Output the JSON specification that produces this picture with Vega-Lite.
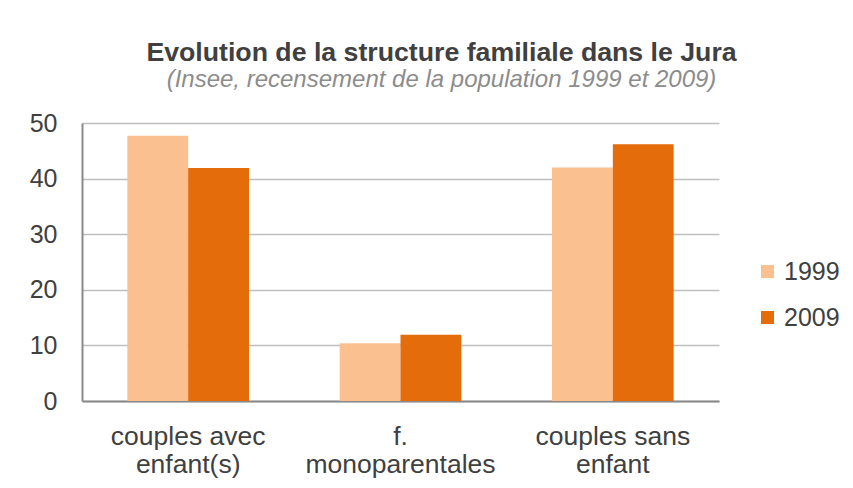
{
  "$schema": "https://vega.github.io/schema/vega-lite/v6.json",
  "width": 637,
  "height": 278,
  "autosize": {"type": "none"},
  "padding": {"left": 82, "top": 123, "right": 134, "bottom": 87},
  "background": "white",
  "title": {
    "text": "Evolution de la structure familiale dans le Jura",
    "subtitle": "(Insee, recensement de la population 1999 et 2009)",
    "anchor": "middle",
    "frame": "group",
    "dx": 41,
    "offset": 19,
    "font": "Liberation Sans",
    "fontSize": 26.7,
    "fontWeight": "bold",
    "color": "#404040",
    "subtitleFont": "Liberation Sans",
    "subtitleFontSize": 24,
    "subtitleFontStyle": "italic",
    "subtitleColor": "#8c8c8c",
    "subtitlePadding": 1
  },
  "data": {
    "values": [
      {"categorie": "couples avec enfant(s)", "annee": "1999", "valeur": 47.7},
      {"categorie": "couples avec enfant(s)", "annee": "2009", "valeur": 41.9},
      {"categorie": "f. monoparentales", "annee": "1999", "valeur": 10.4},
      {"categorie": "f. monoparentales", "annee": "2009", "valeur": 11.9},
      {"categorie": "couples sans enfant", "annee": "1999", "valeur": 42.0},
      {"categorie": "couples sans enfant", "annee": "2009", "valeur": 46.2}
    ]
  },
  "mark": {"type": "bar"},
  "encoding": {
    "x": {
      "field": "categorie",
      "type": "nominal",
      "sort": ["couples avec enfant(s)", "f. monoparentales", "couples sans enfant"],
      "scale": {"paddingInner": 0.427, "paddingOuter": 0.2135},
      "axis": {
        "title": null,
        "labelAngle": 0,
        "ticks": false,
        "domainColor": "#898989",
        "domainWidth": 2,
        "labelFont": "Liberation Sans",
        "labelFontSize": 26.5,
        "labelColor": "#404040",
        "labelPadding": 22,
        "labelLineHeight": 28,
        "labelLimit": 0,
        "labelExpr": "datum.value == 'f. monoparentales' ? ['f.', 'monoparentales'] : [slice(datum.value, 0, 12), slice(datum.value, 13)]"
      }
    },
    "xOffset": {"field": "annee", "type": "nominal"},
    "y": {
      "field": "valeur",
      "type": "quantitative",
      "scale": {"domain": [0, 50]},
      "axis": {
        "title": null,
        "values": [0, 10, 20, 30, 40, 50],
        "ticks": false,
        "domainColor": "#898989",
        "domainWidth": 2,
        "gridColor": "#bfbfbf",
        "gridWidth": 1.5,
        "labelFont": "Liberation Sans",
        "labelFontSize": 25,
        "labelColor": "#404040",
        "labelPadding": 25
      }
    },
    "color": {
      "field": "annee",
      "type": "nominal",
      "scale": {"domain": ["1999", "2009"], "range": ["#FAC090", "#E46C0A"]},
      "legend": {
        "title": null,
        "orient": "none",
        "legendX": 673,
        "legendY": 136,
        "symbolType": "square",
        "symbolSize": 169,
        "symbolStrokeWidth": 0,
        "labelFont": "Liberation Sans",
        "labelFontSize": 25,
        "labelColor": "#404040",
        "labelOffset": 4,
        "rowPadding": 20
      }
    }
  },
  "config": {
    "view": {"stroke": null}
  }
}
